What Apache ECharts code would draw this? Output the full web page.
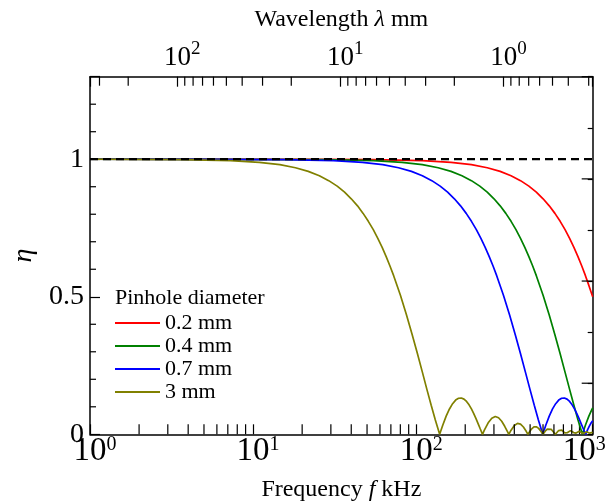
<!DOCTYPE html>
<html>
<head>
<meta charset="utf-8">
<script src="https://cdn.jsdelivr.net/npm/echarts@6/dist/echarts.min.js"></script>
<style>
  html, body { margin: 0; padding: 0; background: #fff; }
  #chart { width: 614px; height: 502px; }
</style>
</head>
<body>
<div id="chart"></div>
<script>
// Speed of sound in mm·kHz: wavelength (mm) = SOUND_SPEED / frequency (kHz)
const SOUND_SPEED = 343;
const F_MIN = 1;
const F_MAX = 1210;

// Pinhole diameter 0.2 mm
const freq02 = [1, 27.3, 54.6, 109.2, 163.8, 218.4, 273.0, 327.5, 382.1, 436.7, 491.3, 545.9, 600.5,
  655.1, 709.7, 764.3, 818.9, 873.4, 928.0, 982.6, 1037, 1092, 1146, 1201, 1210];
const eta02 = [1, 0.9997, 0.9988, 0.9950, 0.9888, 0.9801, 0.9691, 0.9557, 0.9400, 0.9221, 0.9021, 0.8801,
  0.8562, 0.8305, 0.8031, 0.7742, 0.7439, 0.7124, 0.6797, 0.6461, 0.6117, 0.5767, 0.5413, 0.5054, 0.4997];

// Pinhole diameter 0.4 mm
const freq04 = [1, 27.3, 54.6, 81.9, 109.2, 136.5, 163.7, 191.0, 218.3, 245.6, 272.9, 300.2, 327.5, 354.8,
  382.1, 409.4, 436.6, 463.9, 491.2, 518.5, 545.8, 600.4, 655.0, 709.5, 764.1, 818.7, 873.3, 927.9, 982.4,
  1045.7, 1091.6, 1146.2, 1200.8, 1210];
const eta04 = [1, 0.9988, 0.9950, 0.9888, 0.9801, 0.9691, 0.9557, 0.9400, 0.9221, 0.9021, 0.8801, 0.8562,
  0.8305, 0.8031, 0.7742, 0.7439, 0.7124, 0.6797, 0.6461, 0.6117, 0.5767, 0.5054, 0.4335, 0.3622, 0.2927,
  0.2261, 0.1633, 0.1054, 0.0530, 0, 0.0330, 0.0660, 0.0922, 0.0954];

// Pinhole diameter 0.7 mm
const freq07 = [1, 15.6, 31.2, 46.8, 62.4, 78.0, 93.6, 109.2, 124.8, 140.4, 156.0, 171.6, 187.2, 202.8,
  218.4, 234.0, 249.6, 265.1, 280.7, 296.3, 311.9, 343.1, 374.3, 405.5, 436.7, 467.9, 499.1, 530.3, 561.5,
  597.6, 623.9, 655.1, 686.3, 717.5, 748.7, 779.9, 811.0, 842.2, 873.4, 904.6, 935.8, 967.0, 998.2, 1029,
  1061, 1094, 1123, 1154, 1185, 1210];
const eta07 = [1, 0.9988, 0.9950, 0.9888, 0.9801, 0.9691, 0.9557, 0.9400, 0.9221, 0.9021, 0.8801, 0.8562,
  0.8305, 0.8031, 0.7742, 0.7439, 0.7124, 0.6797, 0.6461, 0.6117, 0.5767, 0.5054, 0.4335, 0.3622, 0.2927,
  0.2261, 0.1633, 0.1054, 0.0530, 0, 0.0330, 0.0660, 0.0922, 0.1113, 0.1244, 0.1310, 0.1320, 0.1279,
  0.1194, 0.1072, 0.0922, 0.0751, 0.0568, 0.0379, 0.0192, 0, 0.0151, 0.0296, 0.0419, 0.0496];

// Pinhole diameter 3 mm
const freq3 = [1, 3.64, 7.28, 10.9, 14.6, 18.2, 21.8, 25.5, 29.1, 32.8, 36.4, 40.0, 43.7, 47.3, 50.9, 54.6,
  58.2, 61.9, 65.5, 69.1, 72.8, 80.1, 87.3, 94.6, 101.9, 109.2, 116.4, 123.7, 131.0, 139.4,
  145.6, 152.8, 160.1, 167.4, 174.7, 182.0, 189.2, 196.5, 203.8, 211.1, 218.3, 225.6, 232.9, 240.2, 247.5, 255.3,
  262.0, 276.6, 291.1, 305.7, 320.2, 334.8, 349.3, 363.9, 370.2,
  382.1, 400.3, 418.5, 436.7, 454.9, 473.1, 484.7,
  491.3, 509.5, 527.7, 545.9, 564.0, 582.2, 599.3,
  618.6, 636.8, 655.0, 673.2, 691.4, 714.0,
  727.8, 746.0, 764.2, 782.4, 800.6, 815.1, 828.2,
  844.2, 866.1, 884.3, 902.5, 924.3, 942.5,
  957.1, 978.9, 1000.7, 1022.6, 1040.8, 1057.1,
  1073.5, 1095.3, 1113.5, 1135.4, 1153.6, 1171.4,
  1186.3, 1210];
const eta3 = [1, 0.9988, 0.9950, 0.9888, 0.9801, 0.9691, 0.9557, 0.9400, 0.9221, 0.9021, 0.8801, 0.8562,
  0.8305, 0.8031, 0.7742, 0.7439, 0.7124, 0.6797, 0.6461, 0.6117, 0.5767, 0.5054, 0.4335, 0.3622, 0.2927,
  0.2261, 0.1633, 0.1054, 0.0530, 0,
  0.0330, 0.0660, 0.0922, 0.1113, 0.1244, 0.1310, 0.1320, 0.1279, 0.1194, 0.1072, 0.0922, 0.0751, 0.0568,
  0.0379, 0.0192, 0,
  0.0151, 0.0419, 0.0587, 0.0645, 0.0600, 0.0473, 0.0291, 0.0087, 0,
  0.0150, 0.0321, 0.0397, 0.0372, 0.0265, 0.0108, 0,
  0.0056, 0.0191, 0.0267, 0.0273, 0.0216, 0.0113, 0,
  0.0115, 0.0185, 0.0209, 0.0182, 0.0115, 0,
  0.0067, 0.0131, 0.0163, 0.0152, 0.0105, 0.0055, 0,
  0.0059, 0.0118, 0.0133, 0.0116, 0.0062, 0,
  0.0044, 0.0095, 0.0111, 0.0088, 0.0046, 0,
  0.0043, 0.0083, 0.0094, 0.0077, 0.0043, 0,
  0.0033, 0.0072];

// Reference level eta = 1
const refFreq = [1, 1210];
const refEta = [1, 1];

// Tick values
const freqMinorTicks = [2, 3, 4, 5, 6, 7, 8, 9, 20, 30, 40, 50, 60, 70, 80, 90,
  200, 300, 400, 500, 600, 700, 800, 900];
const wavelengthMinorTicks = [0.3, 0.4, 0.5, 0.6, 0.7, 0.8, 0.9, 2, 3, 4, 5, 6, 7, 8, 9,
  20, 30, 40, 50, 60, 70, 80, 90, 200, 300];
const etaMinorTicks = [0.1, 0.2, 0.3, 0.4, 0.6, 0.7, 0.8, 0.9, 1.1, 1.2];
const rightLongTicks = [1, 3, 5, 7];

const seriesNames = ['0.2 mm', '0.4 mm', '0.7 mm', '3 mm'];
const seriesColors = ['#ff0000', '#008000', '#0000ff', '#808000'];

const FONT = "'Liberation Serif', 'DejaVu Serif', serif";

function pairs(xs, ys) {
  return xs.map((x, i) => [x, ys[i]]);
}

function powerLabel(value) {
  const lg = Math.log10(value);
  const e = Math.round(lg);
  if (Math.abs(lg - e) > 1e-6) return '';
  return '{b|10}{s|' + e + '}';
}

// Short tick marks drawn on a grid edge at the given axis values
function tickSeries(values, xIdx, yIdx, side, len) {
  const horizontal = side === 'left' || side === 'right';
  return {
    type: 'custom',
    xAxisIndex: xIdx,
    yAxisIndex: yIdx,
    silent: true,
    clip: false,
    z: 6,
    data: values.map(v => horizontal ? [F_MIN, v] : [v, 0]),
    renderItem(params, api) {
      const cs = params.coordSys;
      const p = api.coord([api.value(0), api.value(1)]);
      let shape;
      if (side === 'bottom') {
        const y = cs.y + cs.height;
        shape = { x1: p[0], y1: y, x2: p[0], y2: y - len };
      } else if (side === 'top') {
        shape = { x1: p[0], y1: cs.y, x2: p[0], y2: cs.y + len };
      } else if (side === 'left') {
        shape = { x1: cs.x, y1: p[1], x2: cs.x + len, y2: p[1] };
      } else {
        const x = cs.x + cs.width;
        shape = { x1: x, y1: p[1], x2: x - len, y2: p[1] };
      }
      return { type: 'line', shape, style: { stroke: '#000', lineWidth: 1.2 } };
    }
  };
}

const chart = echarts.init(document.getElementById('chart'), null, { renderer: 'canvas' });

const curveData = [pairs(freq02, eta02), pairs(freq04, eta04), pairs(freq07, eta07), pairs(freq3, eta3)];

const curveSeries = curveData.map((d, i) => ({
  name: seriesNames[i],
  type: 'line',
  data: d,
  xAxisIndex: 0,
  yAxisIndex: 0,
  showSymbol: false,
  symbol: 'none',
  color: seriesColors[i],
  lineStyle: { color: seriesColors[i], width: 1.7 },
  z: 3
}));

const axisLineStyle = { onZero: false, lineStyle: { color: '#000', width: 1.5 } };

chart.setOption({
  animation: false,
  backgroundColor: '#fff',
  textStyle: { fontFamily: FONT },
  grid: {
    left: 90, right: 21.3, top: 76.7, bottom: 67.7,
    containLabel: false,
    outerBoundsMode: 'none'
  },
  title: {
    text: 'Pinhole diameter',
    left: 115, top: 287, padding: 0,
    textStyle: { fontFamily: FONT, fontSize: 22, fontWeight: 'normal', color: '#000' }
  },
  legend: {
    data: seriesNames,
    orient: 'vertical',
    left: 115, top: 312,
    padding: 0,
    icon: 'rect',
    itemWidth: 45, itemHeight: 2,
    itemGap: 1,
    selectedMode: false,
    textStyle: { fontFamily: FONT, fontSize: 22, lineHeight: 22, color: '#000' }
  },
  xAxis: [
    {
      type: 'log', logBase: 10, min: F_MIN, max: F_MAX, position: 'bottom',
      axisLine: axisLineStyle,
      axisTick: { inside: true, length: 10, lineStyle: { color: '#000', width: 1.2 } },
      splitLine: { show: false },
      axisLabel: {
        margin: 0, interval: 0, hideOverlap: false, color: '#000',
        formatter: powerLabel,
        rich: {
          b: { fontFamily: FONT, fontSize: 33, lineHeight: 34, color: '#000', padding: [0, 0, 0, 10] },
          s: { fontFamily: FONT, fontSize: 20, lineHeight: 20, verticalAlign: 'top', color: '#000' }
        }
      },
      name: '{n|Frequency }{i|f}{n| kHz}',
      nameLocation: 'middle', nameGap: 43,
      nameTextStyle: {
        rich: {
          n: { fontFamily: FONT, fontSize: 24, color: '#000' },
          i: { fontFamily: FONT, fontSize: 24, fontStyle: 'italic', color: '#000' }
        }
      }
    },
    {
      type: 'log', logBase: 10, min: SOUND_SPEED / F_MAX, max: SOUND_SPEED / F_MIN,
      inverse: true, position: 'top',
      axisLine: axisLineStyle,
      axisTick: { inside: true, length: 10, lineStyle: { color: '#000', width: 1.2 } },
      splitLine: { show: false },
      axisLabel: {
        margin: 1, interval: 0, hideOverlap: false, color: '#000',
        formatter: powerLabel,
        rich: {
          b: { fontFamily: FONT, fontSize: 27, lineHeight: 36, color: '#000', padding: [0, 0, 0, 10] },
          s: { fontFamily: FONT, fontSize: 19, lineHeight: 19, verticalAlign: 'top', color: '#000' }
        }
      },
      name: '{n|Wavelength }{i|λ}{n| mm}',
      nameLocation: 'middle', nameGap: 45,
      nameTextStyle: {
        rich: {
          n: { fontFamily: FONT, fontSize: 24, color: '#000' },
          i: { fontFamily: FONT, fontSize: 24, fontStyle: 'italic', color: '#000' }
        }
      }
    }
  ],
  yAxis: [
    {
      type: 'value', min: 0, max: 1.3, interval: 0.5, position: 'left',
      axisLine: Object.assign({ show: true }, axisLineStyle),
      axisTick: { show: true, inside: true, length: 10, lineStyle: { color: '#000', width: 1.2 } },
      splitLine: { show: false },
      axisLabel: {
        margin: 6, color: '#000', fontFamily: FONT, fontSize: 28,
        formatter: v => (v > 1.2 ? '' : String(v))
      },
      name: 'η',
      nameLocation: 'middle', nameRotate: 90, nameGap: 52,
      nameTextStyle: { fontFamily: FONT, fontSize: 28, fontStyle: 'italic', color: '#000' }
    },
    {
      type: 'value', min: 0, max: 7, interval: 1, position: 'right',
      axisLine: Object.assign({ show: true }, axisLineStyle),
      axisTick: { show: true, inside: true, length: 5, lineStyle: { color: '#000', width: 1.2 } },
      splitLine: { show: false },
      axisLabel: { show: false }
    }
  ],
  series: [
    ...curveSeries,
    {
      name: 'reference',
      type: 'line',
      data: pairs(refFreq, refEta),
      xAxisIndex: 0, yAxisIndex: 0,
      showSymbol: false, symbol: 'none',
      lineStyle: { color: '#000', width: 2.2, type: [8, 5] },
      z: 5
    },
    tickSeries(freqMinorTicks, 0, 0, 'bottom', 10),
    tickSeries(wavelengthMinorTicks, 1, 0, 'top', 9),
    tickSeries(etaMinorTicks, 0, 0, 'left', 6),
    tickSeries(rightLongTicks, 0, 1, 'right', 11)
  ]
});
</script>
</body>
</html>
